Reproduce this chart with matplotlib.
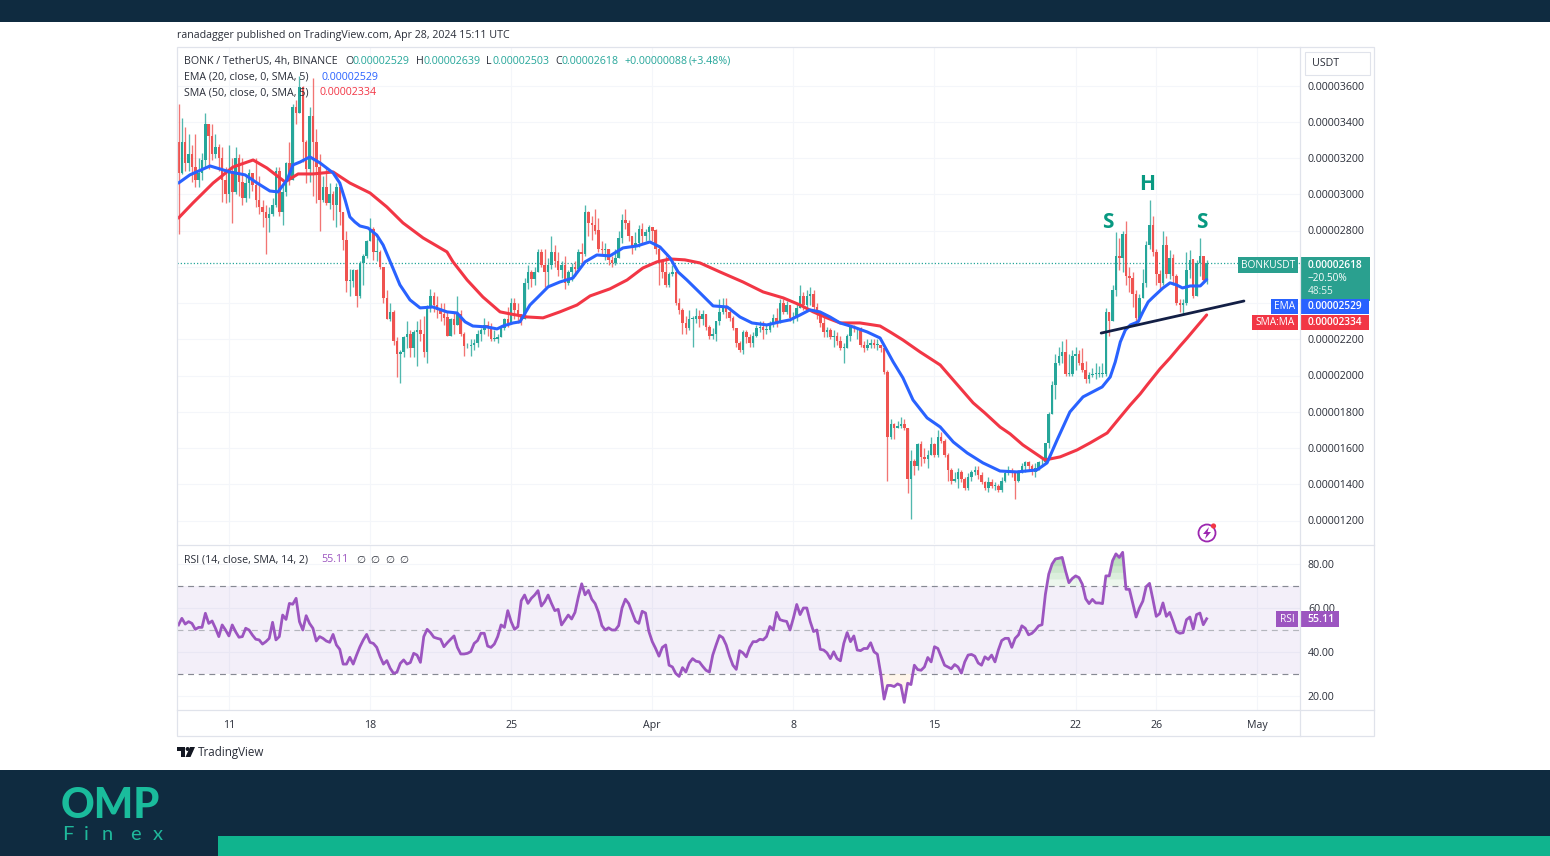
import numpy as np
import matplotlib
matplotlib.use("Agg")
import matplotlib.pyplot as plt
from matplotlib.patches import Rectangle, Polygon, Circle

W, H = 1550, 856

# ---------- data: prices in millionths of USDT, bars are 4h ----------
closes = [
 31.2,32.9,31.7,32.2,31.5,30.8,31.2,31.9,33.9,33.2,
 32.2,32.6,32.0,30.8,30.0,31.3,30.1,32.0,30.7,29.8,
 30.6,31.2,30.5,29.7,29.3,29.0,28.7,28.9,29.4,31.3,
 29.0,30.1,31.7,30.8,34.8,34.5,35.9,32.9,31.4,34.3,
 32.9,31.5,29.7,30.4,29.5,30.0,29.4,30.4,29.0,27.5,
 25.2,25.2,25.8,24.4,26.2,26.6,27.4,28.1,26.8,26.8,
 26.0,24.3,23.1,23.5,21.9,21.2,21.3,22.1,22.3,21.5,
 22.4,22.5,22.3,21.3,23.7,24.4,23.9,23.6,23.4,23.2,
 22.2,23.1,22.8,23.4,22.3,21.6,21.6,21.7,21.8,22.3,
 22.5,22.8,22.6,22.0,22.0,22.1,22.6,23.1,22.9,24.0,
 23.6,23.4,23.1,25.1,25.7,25.3,25.7,26.8,26.1,25.7,
 26.1,26.8,26.3,25.8,26.1,25.1,25.7,26.0,25.9,26.8,
 26.7,29.0,28.4,28.3,28.0,27.0,26.9,27.0,26.4,26.2,
 26.5,27.6,28.6,28.4,27.7,27.1,27.3,28.1,27.7,27.9,
 28.2,28.0,27.0,26.3,25.7,25.0,25.6,25.7,24.0,23.6,
 22.9,22.6,23.1,23.1,23.3,23.1,23.4,22.7,22.2,22.3,
 23.0,23.5,23.8,23.5,23.2,22.6,21.8,21.4,22.4,22.1,
 21.8,22.2,22.6,22.7,22.5,22.5,22.8,23.2,22.9,24.0,
 23.5,23.9,23.2,23.2,23.7,24.4,23.9,24.4,24.5,23.8,
 23.4,22.9,22.4,22.5,22.1,22.2,21.9,21.5,21.5,22.2,
 22.7,22.6,22.6,21.7,21.5,21.7,21.8,21.7,21.7,21.5,
 20.2,16.6,17.3,17.1,17.2,17.3,17.1,14.3,15.3,15.0,
 16.2,15.5,15.4,15.6,16.2,15.6,16.6,16.4,15.6,14.8,
 14.2,14.3,14.7,14.3,13.8,14.4,14.7,14.8,14.5,14.1,
 13.8,14.1,13.9,13.9,13.7,14.2,14.6,14.7,14.6,14.2,
 14.7,15.0,15.2,15.0,14.7,14.9,15.2,15.2,16.3,17.9,
 19.5,20.7,21.1,21.3,20.1,20.1,21.1,21.2,20.7,20.3,
 19.8,20.0,20.1,20.1,20.1,20.1,23.5,23.0,24.7,26.6,
 26.5,27.8,25.5,25.4,24.5,23.2,24.3,25.1,27.2,28.3,
 26.8,25.6,25.1,27.2,25.6,26.5,25.5,24.0,23.9,24.0,
 25.8,26.4,24.4,26.2,26.6,25.29,26.18]
highs = [
 35.0,34.2,33.7,33.3,32.7,33.3,32.0,32.3,34.5,33.9,
 33.9,33.3,32.8,32.6,31.5,32.7,32.0,32.6,32.2,32.0,
 31.0,31.4,31.2,32.0,31.0,29.7,29.4,29.3,29.8,31.5,
 31.5,30.5,31.8,32.9,35.0,35.2,36.5,36.0,33.0,34.8,
 36.4,33.6,32.2,31.0,31.5,30.6,30.2,30.6,30.5,29.0,
 28.0,25.9,25.9,25.9,26.3,26.7,27.5,28.7,28.2,27.6,
 26.9,26.0,24.7,24.0,23.6,22.1,21.4,22.2,23.0,22.5,
 22.5,23.0,23.1,23.3,23.9,24.8,24.6,24.4,24.0,24.0,
 23.5,23.2,23.5,24.4,23.6,22.4,21.8,22.0,22.0,22.5,
 22.6,23.2,23.0,22.9,22.5,22.3,22.8,23.2,23.8,24.3,
 24.3,24.0,23.4,25.4,26.1,25.8,26.0,27.0,27.0,27.0,
 26.5,27.7,27.2,26.8,26.3,26.6,25.8,26.2,26.3,27.0,
 27.3,29.4,29.1,28.8,29.2,28.7,27.4,27.3,26.9,26.6,
 27.0,28.0,28.9,29.2,28.6,27.7,27.9,28.3,28.4,28.1,
 28.3,28.2,28.1,27.1,26.3,26.6,25.7,26.1,25.8,24.3,
 23.7,23.3,23.6,23.3,23.7,23.6,23.6,23.4,22.8,22.6,
 23.0,24.2,24.3,24.3,23.8,23.3,22.6,21.9,22.5,22.5,
 22.3,22.4,22.8,23.0,23.0,22.8,23.0,23.4,23.7,24.2,
 24.2,24.1,23.8,23.5,24.0,25.0,24.6,24.7,24.9,24.7,
 24.0,23.5,23.4,22.7,22.6,22.5,22.4,22.2,21.8,22.3,
 22.8,22.8,22.7,22.7,21.9,22.0,22.0,22.0,22.0,21.7,
 21.5,20.3,17.6,17.4,17.5,17.7,17.6,17.1,15.9,15.4,
 16.3,16.4,16.0,15.9,16.6,16.3,17.0,16.9,16.5,15.7,
 14.9,14.7,14.9,14.8,14.4,14.6,14.8,15.0,15.0,14.7,
 14.2,14.4,14.3,14.1,14.0,14.4,14.8,15.0,14.9,14.7,
 14.8,15.2,15.3,15.3,15.1,15.2,15.3,15.4,16.3,18.0,
 19.7,21.2,21.6,21.9,22.0,21.2,21.4,21.6,21.4,21.5,
 20.8,20.2,20.4,20.7,20.5,20.7,23.7,23.0,25.0,27.9,
 27.6,28.0,28.5,26.0,25.7,24.7,24.5,25.9,27.4,29.7,
 28.8,27.0,25.8,28.0,27.7,26.9,26.7,25.6,24.2,24.2,
 26.8,26.9,25.8,26.4,27.6,26.6,26.39]
lows = [
 27.8,31.1,31.3,31.3,30.7,30.4,30.4,30.8,31.5,31.4,
 31.9,32.0,31.3,29.6,29.5,29.6,28.4,30.0,29.9,29.4,
 29.6,29.8,30.2,29.3,28.9,28.2,26.7,27.9,28.8,29.3,
 28.8,28.3,29.9,30.5,31.6,33.9,34.9,31.8,30.6,30.7,
 29.9,29.5,28.0,29.6,29.4,29.2,28.6,28.2,28.3,26.9,
 24.6,24.4,24.9,23.8,24.3,25.0,26.5,27.7,26.4,26.3,
 25.9,24.0,23.1,23.0,21.7,19.9,19.6,21.0,21.5,21.0,
 21.0,20.5,21.9,21.0,20.7,23.5,23.5,23.2,23.0,22.8,
 22.2,22.2,22.3,22.8,22.2,21.1,21.5,21.1,21.4,21.6,
 21.9,22.3,22.2,21.9,21.9,21.8,22.1,22.5,22.7,22.9,
 23.1,22.9,22.8,23.1,24.8,24.9,25.0,25.7,26.0,24.9,
 24.9,25.9,26.0,25.5,25.4,24.8,25.0,25.2,25.5,25.8,
 26.1,26.6,27.7,27.5,27.8,26.8,26.7,26.4,26.1,26.0,
 26.1,26.5,27.3,28.1,27.4,26.7,26.9,27.1,27.3,27.4,
 27.5,27.4,26.7,25.0,25.4,24.9,24.9,25.5,23.9,23.4,
 22.3,22.3,22.5,21.6,22.9,22.7,22.8,22.5,22.0,22.0,
 21.9,22.8,23.4,23.2,23.0,22.5,21.6,21.3,21.2,21.8,
 21.6,21.6,22.1,22.4,22.0,22.3,22.4,22.7,22.7,22.9,
 23.4,23.4,23.0,22.9,23.0,23.7,23.6,23.7,23.9,23.6,
 23.1,22.7,22.1,22.1,22.0,21.6,21.7,21.4,20.7,21.5,
 21.9,22.4,22.0,21.6,21.3,21.4,21.5,21.5,21.4,21.3,
 20.1,14.2,16.5,16.5,17.1,17.1,17.0,13.5,12.1,14.5,
 14.8,15.0,15.2,14.9,15.6,15.5,15.5,16.3,15.5,14.2,
 14.0,14.1,13.8,14.1,13.7,13.7,14.2,14.5,14.3,14.0,
 13.7,13.6,13.8,13.7,13.6,13.6,14.1,14.5,14.4,13.2,
 14.1,14.6,14.7,14.8,14.5,14.4,14.8,15.0,15.4,16.0,
 17.9,18.7,20.6,20.7,20.0,20.0,20.0,20.3,20.6,20.2,
 19.6,19.6,19.9,19.8,19.9,19.9,20.0,22.2,23.4,24.4,
 25.8,25.7,25.0,24.6,23.8,23.0,23.0,24.3,24.9,27.0,
 26.6,25.0,24.8,25.0,25.4,25.3,25.0,23.9,23.5,23.4,
 23.9,25.4,24.3,24.4,25.5,25.1,25.03]
first_open = 32.9

ema_bars = [0,3.4,9.4,15.3,19.8,23.4,27.2,29.6,32.3,34.1,36.2,39.1,42.1,46,48,49.6,51,52.5,54,56.4,59,60.9,
 63.8,65.9,68.9,71.9,75.7,79.9,82.9,85.3,87.6,91.8,94.8,96.6,99.6,101.6,104.6,107,110,113.5,117.4,
 121,124.5,128.4,132.3,136.5,140.3,143.3,146.3,148.7,151.3,155.2,159.1,163.3,167.1,170.7,175.1,179,
 182,185,187.9,190.9,193.9,196.9,200.8,205,208.8,212.7,215.6,218.6,222.8,226.7,230.6,234.7,239.4,
 244.5,249.5,255.5,258.5,261.5,265.3,269.2,274.9,277.3,278.8,280.3,281.8,283.3,285.6,287,288.6,290.1,
 293,295.1,297,298.8,301.1,304.1,306]
ema_vals = [30.62,31.07,31.56,31.23,31.07,30.62,30.18,30.13,30.79,31.62,31.78,32.06,31.73,31.18,30.62,29.68,
 28.75,28.47,28.25,28.14,27.75,27.2,25.93,25.0,24.17,23.73,23.78,23.51,23.45,22.96,22.73,22.68,22.57,22.73,22.9,
 22.96,23.89,24.33,24.89,25.16,25.38,26.27,26.65,26.6,27.04,27.15,27.37,27.09,26.49,25.71,25.27,24.56,
 23.84,23.78,23.23,22.9,22.79,22.96,23.07,23.34,23.62,23.51,23.23,22.9,22.68,22.4,22.07,20.75,19.87,
 18.65,17.66,17.16,16.33,15.73,15.18,14.73,14.68,14.79,15.18,16.45,17.99,18.82,19.37,19.92,20.75,21.85,
 22.51,22.79,22.96,23.5,24.06,24.33,24.83,25.11,25.0,24.83,24.94,24.94,25.29]
sma_bars = [0,4.3,10.3,16.2,22.2,26.3,31.7,35.6,40,46,51,57,62,66.8,72.8,79.9,81.7,85.9,90.6,95.7,98.7,
 103.7,108.5,113.5,118.6,122.5,128.4,133.5,138.2,142.4,146.3,150.7,155.2,161.2,168,174,180,185,188.9,
 193,196.9,202.8,208.8,211.8,215.6,220.7,226.7,231.1,236.5,240,244.5,247.5,251.3,257.9,262.4,267.4,271.3,
 276.4,280.3,283.3,286.2,288.3,292.1,295.1,298.1,300.2,303.2,306]
sma_vals = [28.69,29.52,30.62,31.5,31.89,31.45,30.68,31.12,31.12,31.23,30.62,30.07,29.3,28.42,27.59,26.82,
 26.27,25.27,24.33,23.51,23.4,23.23,23.18,23.51,23.89,24.39,24.78,25.27,25.93,26.27,26.43,26.38,26.21,
 25.71,25.16,24.61,24.28,23.89,23.51,23.18,22.9,22.9,22.73,22.4,21.96,21.3,20.58,19.64,18.49,17.93,17.16,
 16.78,16.17,15.34,15.51,15.89,16.28,16.83,17.71,18.38,18.98,19.48,20.36,20.97,21.63,22.07,22.73,23.34]

rsi_a = [
 52.3,55.3,52.7,53.8,53.0,50.3,51.2,51.2,57.6,53.0,
 54.1,50.8,47.0,52.3,50.0,47.3,52.3,49.2,46.7,47.0,
 50.8,50.0,47.7,45.8,45.5,43.6,44.7,46.2,53.5,45.5,
 47.0,56.8,54.8,62.1,61.7,64.4,53.8,50.0,56.5,53.0,
 50.8,45.0,47.0,46.2,45.0,44.4,48.0,43.2,41.2,34.5,
 34.5,37.6,34.5,38.6,42.4,45.5,48.0,44.4,43.9,42.1,
 37.9,34.5,36.1,32.6,30.3,30.8,34.8,36.4,34.5,35.2,
 39.4,38.6,35.3,47.0,50.3,48.8,46.7,46.2,45.8,42.4,
 44.2,45.8,47.3,42.1,39.1,39.1,39.4,40.2,43.9,45.2,
 48.5,48.5,42.7,42.1,43.6,47.0,52.3,51.2,58.8,53.8,
 50.3,51.5,63.3,65.9,62.1,64.4,65.9,67.9,60.9,62.9,
 65.9,62.1,58.8,59.4,52.3,54.5,56.8]
rsi_b = [55,58,65,71,66,68,64,62,58,52,50,51,50,50,52,60,64,62,58,54,53]
rsi_c = [
 58.5,57.7,49.3,44.7,41.6,38.1,42.1,43.2,34.0,33.2,
 30.2,28.9,32.9,30.9,35.0,37.0,35.8,35.5,33.5,31.7,
 30.9,38.6,43.2,47.5,46.5,43.2,38.1,34.0,32.1,40.6,
 39.6,37.8,42.1,44.7,44.7,45.8,45.5,47.0,51.6,50.0,
 58.0,54.7,54.2,53.9,50.0,55.4,61.6,57.0,60.0,60.0,
 53.9,49.3,50.0,41.2,40.9,39.6,37.0,40.1,37.0,36.0,
 43.9,48.8,44.7,47.3,40.9,40.6,41.6,41.6,44.2,40.1,
 39.0,30.1,18.6,24.8,24.8,24.3,25.5,24.8,17.1,25.8,
 25.2,34.0,32.0,31.7,33.2,37.5,35.5,42.4,41.6,37.8,
 34.0,33.2,32.4,34.3,33.2,30.4,35.5,38.6,38.9,38.1,
 35.0,34.0,37.8,36.6,38.6,35.5,40.9,45.2,46.2,46.2,
 42.1,46.2,47.8,51.9,50.8,47.8,48.5,50.0,51.9]
rsi_d = [
 52.4,66.2,75.4,80.0,82.3,82.6,83.0,76.9,71.5,73.4,
 74.6,73.8,70.8,64.2,62.0,63.9,62.3,62.3,62.0,74.6,
 74.6,81.5,84.6,83.0,85.3,68.5,68.5,62.3,55.9,60.0,
 63.1,69.7,71.2,63.9,56.2,57.4,62.3,56.2,58.0,53.9,
 49.3,48.5,48.8,54.7,55.9,50.5,57.0,57.7,52.4,55.11]

price_ticks = [12,14,16,18,20,22,24,26,28,30,32,34,36]
rsi_ticks = [20,40,60,80]
date_bars = [15,57,99,141,183,225,267,291,321]
date_labels = ["11","18","25","Apr","8","15","22","26","May"]
trend_bars = [274.6,317.1]
trend_vals = [22.34,24.11]
last_price = 26.18

# ---------- colours ----------
NAVY = "#0f2b40"; TEAL = "#10b48e"
UP = "#26a69a"; DOWN = "#ef5350"; BLUE = "#2962ff"; RED = "#f23645"; PURPLE = "#9c55c0"
BORDER = "#e0e3eb"; GRID = "#f4f6fa"; INK = "#2a2e39"; MARK = "#089981"

plt.rcParams["font.family"] = ["Open Sans", "DejaVu Sans"]
fig = plt.figure(figsize=(W/100, H/100), dpi=100, facecolor="white")

def rect(l, t, r, b):
    return [l/W, 1-b/H, (r-l)/W, (b-t)/H]

# ---------- price panel ----------
ax = fig.add_axes(rect(177, 47, 1300, 544))
x_l, x_r = (177-178.5)/3.36, (1300-178.5)/3.36
ax.set_xlim(x_l, x_r)
ax.set_ylim(12+(520.5-544)/18.125, 12+(520.5-47)/18.125)
ax.set_axisbelow(True)
ax.grid(True, color=GRID, lw=0.8)
ax.set_xticks(date_bars); ax.set_xticklabels([])
ax.set_yticks(price_ticks)
ax.set_yticklabels([f"{v*1e-6:.8f}" for v in price_ticks])
ax.yaxis.tick_right()
ax.tick_params(axis="both", length=0, labelsize=7.7, labelcolor=INK, pad=5.7)
for s in ax.spines.values():
    s.set_visible(False)

c = np.array(closes); h = np.array(highs); l = np.array(lows)
o = np.r_[first_open, c[:-1]]
idx = np.arange(len(c))
up = c >= o
cols = np.where(up, UP, DOWN)
ax.vlines(idx, np.minimum(l, np.minimum(o, c)), np.maximum(h, np.maximum(o, c)),
          colors=cols, lw=0.95, alpha=0.8, zorder=2)
ax.bar(idx, np.maximum(np.abs(c-o), 0.05), bottom=np.minimum(o, c), width=0.74, color=cols, zorder=3, lw=0)
ax.axhline(last_price, color=UP, lw=0.9, ls=(0, (1, 1.6)), zorder=1)
ax.plot(sma_bars, sma_vals, color=RED, lw=2.2, solid_capstyle="round", solid_joinstyle="round", zorder=4)
ax.plot(ema_bars, ema_vals, color=BLUE, lw=2.2, solid_capstyle="round", solid_joinstyle="round", zorder=5)
ax.plot(trend_bars, trend_vals, color="#131f45", lw=2.0, solid_capstyle="round", zorder=6)

# ---------- RSI panel ----------
ar = fig.add_axes(rect(177, 545, 1300, 710))
ar.set_xlim(x_l, x_r)
ar.set_ylim(70-(710-586)/2.2, 70+(586-545)/2.2)
ar.set_axisbelow(True)
ar.grid(True, color=GRID, lw=0.8)
ar.set_xticks(date_bars); ar.set_xticklabels(date_labels)
ar.set_yticks(rsi_ticks); ar.set_yticklabels([f"{v:.2f}" for v in rsi_ticks])
ar.yaxis.tick_right()
ar.tick_params(axis="y", length=0, labelsize=7.7, labelcolor=INK, pad=5.7)
ar.tick_params(axis="x", length=0, labelsize=7.7, labelcolor=INK, pad=7.5)
for s in ar.spines.values():
    s.set_visible(False)
ar.axhspan(30, 70, color="#7e57c2", alpha=0.09, lw=0, zorder=1)
ar.axhline(70, color="#868993", lw=0.85, ls=(0, (5, 4)), zorder=2)
ar.axhline(50, color="#b4b6bd", lw=0.85, ls=(0, (5, 4)), zorder=2)
ar.axhline(30, color="#868993", lw=0.85, ls=(0, (5, 4)), zorder=2)
rx = np.r_[np.arange(len(rsi_a)), 117+np.arange(len(rsi_b)), 138+np.arange(len(rsi_c)), 257+np.arange(len(rsi_d))]
rv = np.array(rsi_a + rsi_b + rsi_c + rsi_d)
for lev in (70, 73, 76, 79, 82):
    ar.fill_between(rx, lev, rv, where=rv >= lev, interpolate=True, color="#4caf50", alpha=0.1, lw=0, zorder=2)
ar.fill_between(rx, 30, rv, where=rv <= 30, interpolate=True, color="#ff9800", alpha=0.08, lw=0, zorder=2)
ar.plot(rx, rv, color=PURPLE, lw=2.0, solid_joinstyle="round", zorder=4)

# ---------- page furniture drawn in pixel space ----------
ov = fig.add_axes([0, 0, 1, 1], zorder=10)
ov.set_xlim(0, W); ov.set_ylim(H, 0); ov.axis("off"); ov.patch.set_alpha(0)

def box(l, t, r, b, color, **kw):
    ov.add_patch(Rectangle((l, t), r-l, b-t, facecolor=color, edgecolor=kw.pop("ec", "none"), lw=kw.pop("lw", 0), **kw))

def txt(x, y, s, color=INK, size=7.7, ha="left", **kw):
    ov.text(x, y+0.8, s, color=color, fontsize=size, ha=ha, va="center", **kw)

box(0, 0, W, 22, NAVY)
box(0, 770, W, H, NAVY)
box(218, 836, W, H, TEAL)

ov.add_patch(Rectangle((177, 47), 1197, 689, fill=False, ec=BORDER, lw=0.9))
ov.plot([1300, 1300], [47, 736], color=BORDER, lw=0.9)
ov.plot([177, 1374], [544.5, 544.5], color=BORDER, lw=0.9)
ov.plot([177, 1374], [710, 710], color=BORDER, lw=0.9)

txt(177, 35, "ranadagger published on TradingView.com, Apr 28, 2024 15:11 UTC", size=7.7)

# legend
txt(184, 60.5, "BONK / TetherUS, 4h, BINANCE")
for xl, s in [(345, "O"), (416, "H"), (486, "L"), (555, "C")]:
    txt(xl, 60.5, s)
for xl, s in [(352.5, "0.00002529"), (423, "0.00002639"), (492.5, "0.00002503"), (562, "0.00002618"),
              (625, "+0.00000088")]:
    txt(xl, 60.5, s, color=UP)
txt(689, 60.5, "(+3.48%)", color=UP)
txt(184, 76.5, "EMA (20, close, 0, SMA, 5)")
txt(321, 76.5, "0.00002529", color=BLUE)
txt(184, 92, "SMA (50, close, 0, SMA, 5)")
txt(320, 92, "0.00002334", color=RED)
txt(184, 559, "RSI (14, close, SMA, 14, 2)")
txt(321, 559, "55.11", color=PURPLE)
for xl in (356, 370, 385, 399):
    ov.text(xl, 559.8, "\u2205", color=INK, fontsize=7.5, ha="left", va="center", family="DejaVu Sans")

# pattern letters
for xl, yl, s in [(1108, 222, "S"), (1147, 184, "H"), (1202, 222, "S")]:
    txt(xl, yl, s, color=MARK, size=15, ha="center", fontweight="bold")

# USDT button
ov.add_patch(Rectangle((1305, 52), 65, 23, facecolor="white", edgecolor=BORDER, lw=0.8))
txt(1312, 62.5, "USDT")

# last value tags
box(1238, 257, 1298, 273, "#2aa08f")
txt(1268, 264.5, "BONKUSDT", color="white", ha="center", size=7.3)
box(1301, 257, 1370, 301, "#2aa08f")
txt(1308, 264.5, "0.00002618", color="white", size=7.3, fontweight="semibold")
txt(1308, 277.5, "\u221220.50%", color="white", size=7.3)
txt(1308, 290.5, "48:55", color="#e6f5f2", size=7.3)
box(1271, 299, 1298, 314, BLUE)
txt(1284.5, 306, "EMA", color="white", ha="center", size=7.3)
box(1301, 299, 1369, 314, BLUE)
txt(1308, 306, "0.00002529", color="white", size=7.3, fontweight="semibold")
box(1252, 315, 1298, 330, RED)
txt(1275, 322, "SMA:MA", color="white", ha="center", size=7.3)
box(1301, 315, 1369, 330, RED)
txt(1308, 322, "0.00002334", color="white", size=7.3, fontweight="semibold")
box(1276, 611, 1298, 627, PURPLE)
txt(1287, 618.5, "RSI", color="white", ha="center", size=7.3)
box(1300, 611, 1339, 627, PURPLE)
txt(1307, 618.5, "55.11", color="white", fontweight="semibold")

# lightning badge
ov.add_patch(Circle((1207, 533), 8.5, fill=False, ec="#9c27b0", lw=1.3))
ov.add_patch(Polygon([(1209, 527), (1203, 534), (1206.5, 534), (1205, 539), (1211, 532), (1207.5, 532)],
                     closed=True, fc="#9c27b0", ec="none"))
ov.add_patch(Circle((1213.5, 526), 2.6, fc="#f23645", ec="none"))

# TradingView mark and name
ov.add_patch(Polygon([(177, 747), (185, 747), (185, 757), (181, 757), (181, 751), (177, 751)], closed=True, fc="#131722", ec="none"))
ov.add_patch(Circle((187.6, 749), 2.0, fc="#131722", ec="none"))
ov.add_patch(Polygon([(190, 747), (195, 747), (190.5, 757), (185.5, 757)], closed=True, fc="#131722", ec="none"))
txt(198, 752, "TradingView", size=8.4, color="#2a2e39")

# brand logo
txt(61, 805, "OMP", color="#1abc9c", size=30, fontweight=900, family="Lato")
for xl, s in [(62, "F"), (84, "i"), (102, "n"), (130, "e"), (153, "x")]:
    txt(xl, 834, s, color="#1fb89b", size=14.5, family="Lato", fontweight="normal")

fig.savefig("out.png", dpi=100, facecolor="white")
